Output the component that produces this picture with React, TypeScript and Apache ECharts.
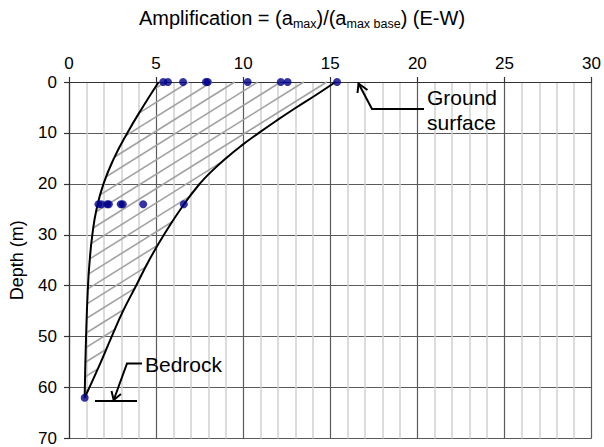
import React, { useEffect, useRef } from "react";
import * as echarts from "echarts";

// Axis ranges / ticks
const ampTicks = [0, 5, 10, 15, 20, 25, 30];
const depthTicks = [0, 10, 20, 30, 40, 50, 60, 70];

// Lower (left) envelope: amplification vs depth
const lowerEnvDepth = [0, 5, 10, 15, 20, 25, 30, 35, 40, 50, 62];
const lowerEnvAmp = [5.15, 4.22, 3.35, 2.58, 1.98, 1.58, 1.34, 1.19, 1.09, 0.98, 0.9];

// Upper (right) envelope
const upperEnvDepth = [0, 2.5, 5, 7.5, 10, 12.5, 15, 17.5, 20, 24, 30, 35, 40, 45, 50, 56, 62];
const upperEnvAmp = [15.3, 14.2, 13.05, 11.95, 10.9, 9.9, 9.0, 8.2, 7.5, 6.6, 5.45, 4.6, 3.85, 3.1, 2.45, 1.7, 0.9];

// Measured points
const surfaceDepth = 0;
const surfaceAmp = [5.41, 5.68, 6.55, 7.86, 7.97, 10.26, 12.16, 12.55, 15.39];
const midDepth = 24;
const midAmp = [1.69, 1.86, 2.19, 2.29, 2.97, 3.09, 4.26, 6.59];
const bedrockDepth = 62;
const bedrockAmp = [0.9];

const FONT = "'Liberation Sans', Arial, sans-serif";

export default function App() {
  const ref = useRef<HTMLDivElement>(null);
  useEffect(() => {
    if (!ref.current) return;
    const chart = echarts.init(ref.current, null, { renderer: "svg" });

    const hatch = {
      type: "custom",
      coordinateSystem: "cartesian2d",
      silent: true,
      z: 1,
      data: [[0, 0]],
      renderItem: (_params: any, api: any) => {
        const poly: number[][] = [];
        for (let i = 0; i < lowerEnvDepth.length; i++) poly.push(api.coord([lowerEnvAmp[i], lowerEnvDepth[i]]));
        for (let i = upperEnvDepth.length - 1; i >= 0; i--) poly.push(api.coord([upperEnvAmp[i], upperEnvDepth[i]]));
        const ang = (32 * Math.PI) / 180;
        const dx = Math.cos(ang), dy = -Math.sin(ang);
        const nx = -dy, ny = dx;
        const projN = (p: number[]) => p[0] * nx + p[1] * ny;
        const projD = (p: number[]) => p[0] * dx + p[1] * dy;
        const anchor = api.coord([14.8, 0]);
        const spacing = 12.2;
        const vals = poly.map(projN);
        const mn = Math.min(...vals), mx = Math.max(...vals);
        const c0 = projN(anchor);
        const k0 = Math.ceil((mn - c0) / spacing), k1 = Math.floor((mx - c0) / spacing);
        const children: any[] = [];
        for (let k = k0; k <= k1; k++) {
          const c = c0 + k * spacing;
          const pts: number[][] = [];
          for (let i = 0; i < poly.length; i++) {
            const a = poly[i], b = poly[(i + 1) % poly.length];
            const fa = projN(a) - c, fb = projN(b) - c;
            if ((fa < 0) !== (fb < 0)) {
              const t = fa / (fa - fb);
              pts.push([a[0] + t * (b[0] - a[0]), a[1] + t * (b[1] - a[1])]);
            }
          }
          pts.sort((p, q) => projD(p) - projD(q));
          for (let j = 0; j + 1 < pts.length; j += 2) {
            children.push({
              type: "line",
              shape: { x1: pts[j][0], y1: pts[j][1], x2: pts[j + 1][0], y2: pts[j + 1][1] },
              style: { stroke: "#a2a2a2", lineWidth: 1.6 },
            });
          }
        }
        return { type: "group", children };
      },
    };

    const option: any = {
      animation: false,
      backgroundColor: "#ffffff",
      title: {
        left: "center",
        top: 1,
        text: "Amplification = (a{sub|max})/(a{sub|max base}) (E-W)",
        textStyle: {
          fontFamily: FONT,
          fontSize: 20,
          fontWeight: "normal",
          color: "#000",
          lineHeight: 24,
          rich: {
            sub: { fontFamily: FONT, fontSize: 12.5, lineHeight: 12, verticalAlign: "bottom", color: "#000" },
          },
        },
      },
      grid: { left: 67, right: 9, top: 82, bottom: 6, containLabel: false },
      xAxis: {
        type: "value",
        position: "top",
        min: ampTicks[0],
        max: ampTicks[ampTicks.length - 1],
        interval: 5,
        axisLine: { show: true, lineStyle: { color: "#333", width: 1.2 } },
        axisTick: { show: true, length: 5, lineStyle: { color: "#333", width: 1.2 } },
        axisLabel: { fontFamily: FONT, fontSize: 17, color: "#000", margin: 10 },
        splitLine: { show: true, lineStyle: { color: "#5a5a5a", width: 1.2 } },
        minorTick: { show: false, splitNumber: 5 },
        minorSplitLine: { show: true, lineStyle: { color: "#d0d0d0", width: 1.5 } },
      },
      yAxis: {
        type: "value",
        inverse: true,
        min: depthTicks[0],
        max: depthTicks[depthTicks.length - 1],
        interval: 10,
        name: "Depth (m)",
        nameLocation: "middle",
        nameGap: 43,
        nameTextStyle: { fontFamily: FONT, fontSize: 18, color: "#000" },
        axisLine: { show: true, lineStyle: { color: "#333", width: 1.2 } },
        axisTick: { show: true, length: 5, lineStyle: { color: "#333", width: 1.2 } },
        axisLabel: { fontFamily: FONT, fontSize: 17, color: "#000", margin: 12 },
        splitLine: { show: true, lineStyle: { color: "#5a5a5a", width: 1.2 } },
      },
      series: [
        hatch,
        {
          type: "line",
          data: lowerEnvDepth.map((d, i) => [lowerEnvAmp[i], d]),
          showSymbol: false,
          smooth: 0.5,
          lineStyle: { color: "#000", width: 2 },
          z: 3,
        },
        {
          type: "line",
          data: upperEnvDepth.map((d, i) => [upperEnvAmp[i], d]),
          showSymbol: false,
          smooth: 0.5,
          lineStyle: { color: "#000", width: 2 },
          z: 3,
        },
        {
          type: "scatter",
          symbol: "circle",
          symbolSize: 8,
          itemStyle: { color: "#00008b" },
          z: 4,
          data: [
            ...surfaceAmp.map((a) => [a, surfaceDepth]),
            ...midAmp.map((a) => [a, midDepth]),
            ...bedrockAmp.map((a) => [a, bedrockDepth]),
          ],
        },
      ],
      graphic: [
        // Ground surface annotation
        { type: "polyline", z: 100, shape: { points: [[424, 109], [372, 109], [358.5, 83.5]] }, style: { stroke: "#000", lineWidth: 2, fill: null } },
        { type: "polyline", z: 100, shape: { points: [[357.5, 93], [358.5, 83.5], [367.5, 90]] }, style: { stroke: "#000", lineWidth: 2, fill: null } },
        {
          type: "text",
          z: 100,
          x: 427,
          y: 109.5,
          style: { text: "Ground\nsurface", font: `21px ${FONT}`, fill: "#000", lineHeight: 25, textVerticalAlign: "middle", textAlign: "left" },
        },
        // Bedrock annotation
        { type: "line", z: 100, shape: { x1: 95, y1: 401, x2: 137, y2: 401 }, style: { stroke: "#000", lineWidth: 2 } },
        { type: "polyline", z: 100, shape: { points: [[142, 363.5], [127, 363.5], [113.7, 400]] }, style: { stroke: "#000", lineWidth: 2, fill: null } },
        { type: "polyline", z: 100, shape: { points: [[111.5, 391], [113.7, 400], [121, 394]] }, style: { stroke: "#000", lineWidth: 2, fill: null } },
        {
          type: "text",
          z: 100,
          x: 145,
          y: 364,
          style: { text: "Bedrock", font: `21px ${FONT}`, fill: "#000", textVerticalAlign: "middle", textAlign: "left" },
        },
      ],
    };
    chart.setOption(option);
    return () => chart.dispose();
  }, []);
  return <div ref={ref} style={{ position: "fixed", left: 0, top: 0, width: 604, height: 447 }} />;
}
